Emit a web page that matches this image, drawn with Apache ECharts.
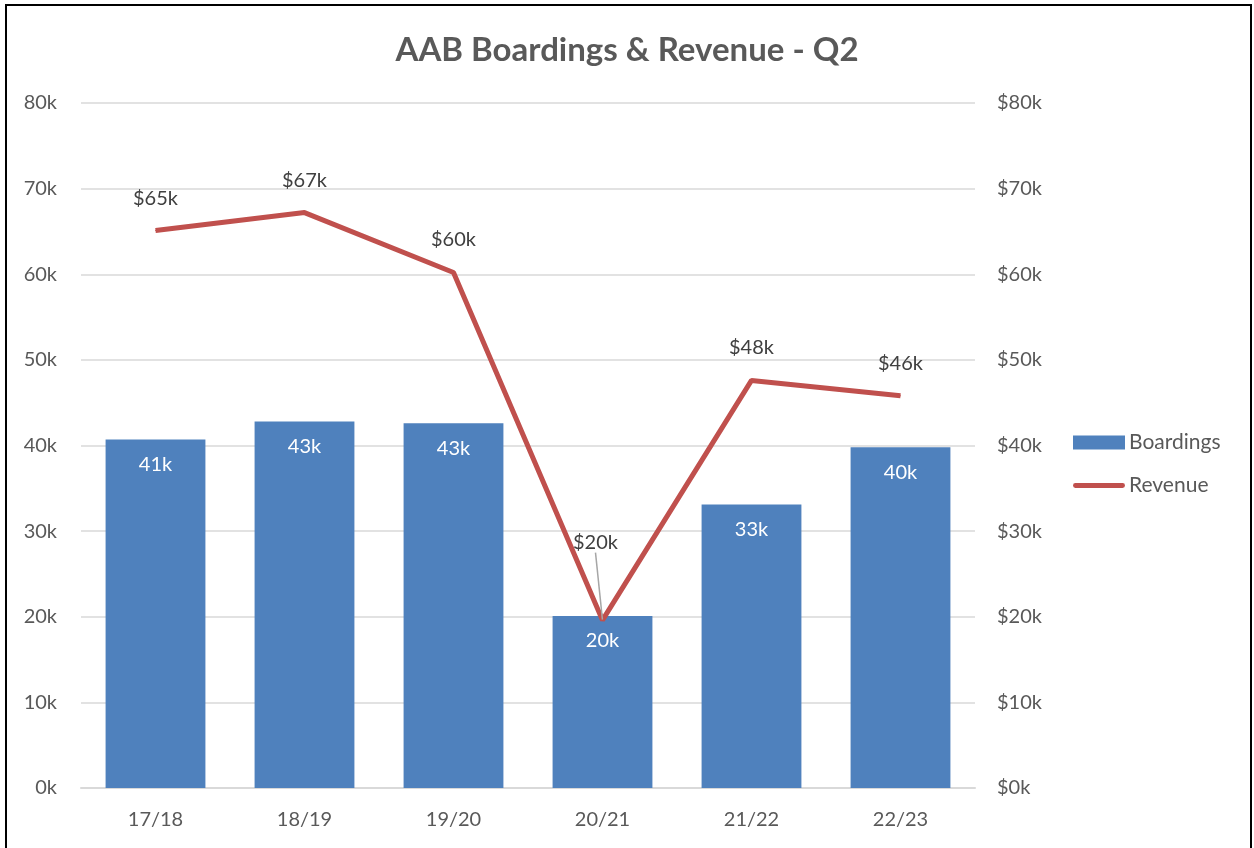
<!DOCTYPE html>
<html>
<head>
<meta charset="utf-8">
<script src="https://cdn.jsdelivr.net/npm/echarts@6/dist/echarts.min.js"></script>
<style>
  html, body { margin: 0; padding: 0; background: #fff; }
  #chart { width: 1254px; height: 848px; }
  #frame { position: absolute; left: 5px; top: 4px; width: 1243px; height: 860px;
           border: 2px solid #000; pointer-events: none; }
</style>
</head>
<body>
<div id="chart"></div>
<div id="frame"></div>
<script>
// values in thousands
var years = ['17/18', '18/19', '19/20', '20/21', '21/22', '22/23'];
var boardings = [40.7, 42.8, 42.6, 20.1, 33.1, 39.8];
var revenue = [65.1, 67.2, 60.2, 19.6, 47.6, 45.8];

var font = 'Lato';
var grey = '#595959';

// the 20/21 label sits higher with a leader line
var revenueData = revenue.map(function (v, i) {
    if (i === 3) {
        return { value: v, labelLine: { show: true, lineStyle: { color: '#a6a6a6', width: 1.5 } } };
    }
    return v;
});

var myChart = echarts.init(document.getElementById('chart'));

myChart.setOption({
    backgroundColor: '#fff',
    textStyle: { fontFamily: font },
    title: {
        text: 'AAB Boardings & Revenue - Q2',
        left: 'center',
        top: 29,
        textStyle: { fontFamily: font, fontSize: 33, fontWeight: 'bold', color: grey }
    },
    legend: {
        orient: 'vertical',
        left: 1068,
        top: 427,
        itemGap: 22,
        itemWidth: 52,
        itemHeight: 14,
        textStyle: { fontFamily: font, fontSize: 21, color: grey, padding: [0, 0, 0, -1] },
        data: [
            { name: 'Boardings', icon: 'rect' },
            { name: 'Revenue', icon: 'path://M2,0 H50 A2,2 0 0 1 50,5 H2 A2,2 0 0 1 2,0 Z' }
        ]
    },
    grid: { left: 81, right: 279, top: 103, bottom: 60 },
    xAxis: {
        type: 'category',
        data: years,
        axisLine: { lineStyle: { color: '#d9d9d9', width: 2 } },
        axisTick: { show: false },
        axisLabel: { color: grey, fontSize: 20, margin: 22, fontFamily: font }
    },
    yAxis: [{
        type: 'value',
        min: 0, max: 80, interval: 10,
        axisLabel: { color: grey, fontSize: 20, margin: 24, fontFamily: font,
            formatter: function (v) { return v + 'k'; } },
        splitLine: { lineStyle: { color: '#d9d9d9', width: 1.5 } },
        axisLine: { show: false }, axisTick: { show: false }
    }, {
        type: 'value',
        min: 0, max: 80, interval: 10,
        position: 'right',
        axisLabel: { color: grey, fontSize: 20, margin: 22, fontFamily: font, align: 'left',
            formatter: function (v) { return '$' + v + 'k'; } },
        splitLine: { show: false },
        axisLine: { show: false }, axisTick: { show: false }
    }],
    series: [{
        name: 'Boardings',
        type: 'bar',
        data: boardings,
        barCategoryGap: '33%',
        itemStyle: { color: '#4f81bd' },
        label: {
            show: true, position: 'insideTop', distance: 15,
            color: '#fff', fontSize: 20, fontFamily: font,
            formatter: function (p) { return Math.round(p.value) + 'k'; }
        }
    }, {
        name: 'Revenue',
        type: 'line',
        yAxisIndex: 1,
        data: revenueData,
        symbol: 'circle',
        symbolSize: 1,
        showSymbol: true,
        lineStyle: { color: '#c0504d', width: 5 },
        itemStyle: { color: '#c0504d' },
        label: {
            show: true, position: 'top', distance: 22,
            color: '#404040', fontSize: 20, fontFamily: font,
            formatter: function (p) { return '$' + Math.round(p.value) + 'k'; }
        },
        labelLine: { show: false },
        labelLayout: function (params) {
            if (params.dataIndex === 3) {
                return { dx: -7, dy: -45 };
            }
            return {};
        }
    }]
});
</script>
</body>
</html>
